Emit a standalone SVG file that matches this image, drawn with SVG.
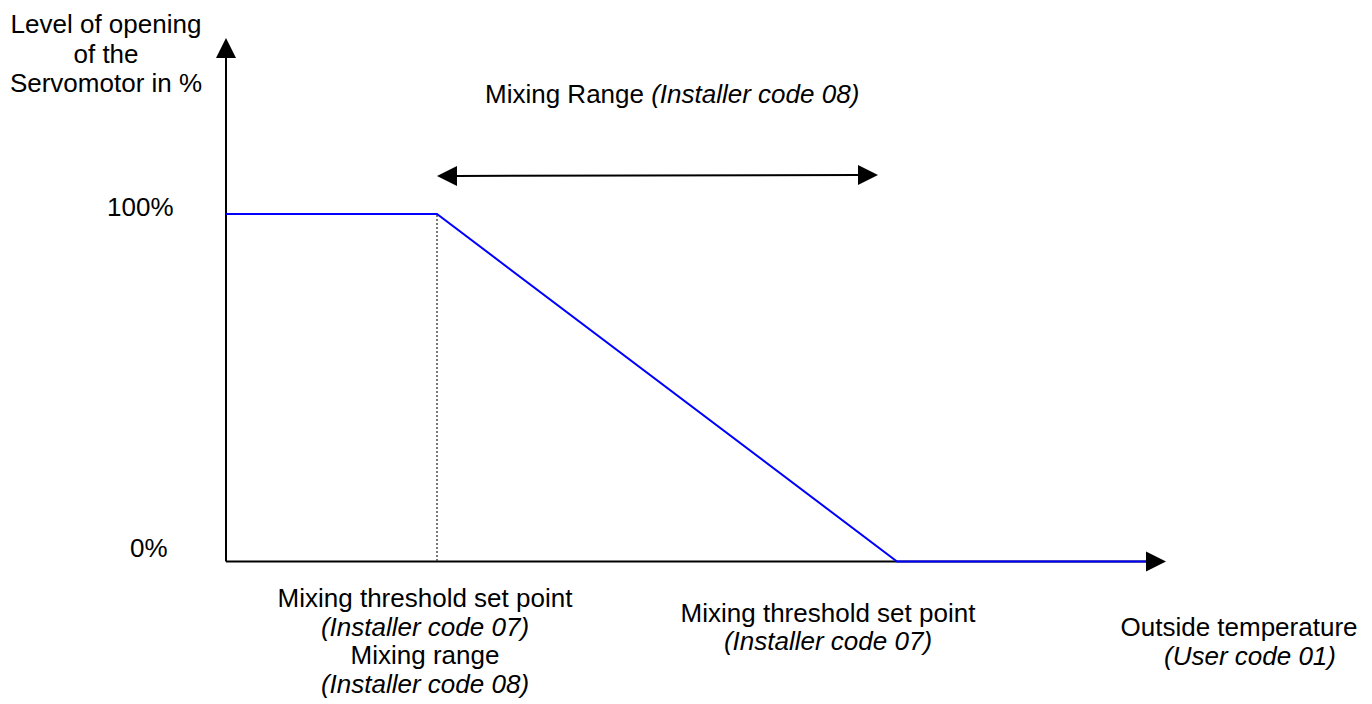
<svg xmlns="http://www.w3.org/2000/svg" width="1372" height="704" viewBox="0 0 1372 704">
<style>
text{font-family:"Liberation Sans",Arial,sans-serif;fill:#000;font-size:26px}
.it{font-style:italic}
.ax{stroke:#000;stroke-width:2;fill:none}
.curve{stroke:#0000ff;stroke-width:2;fill:none}
.dot{stroke:#333;stroke-width:1.3;stroke-dasharray:2,2;fill:none}
.head{fill:#000}
</style>
<g id="connectors">
<line class="ax" x1="226" y1="561.5" x2="226" y2="58"/>
<path class="head" d="M216,58 L226,38 L236,58 Z"/>
<line class="ax" x1="226" y1="561.5" x2="1146" y2="561.5"/>
<path class="head" d="M1146,551.5 L1166,561.5 L1146,571.5 Z"/>
<line class="dot" x1="437" y1="215" x2="437" y2="561"/>
<polyline class="curve" points="226,214 437,214 897,561.5 1146,561.5"/>
<line class="ax" x1="457" y1="176" x2="858" y2="175"/>
<path class="head" d="M457,166 L437,176 L457,186 Z"/>
<path class="head" d="M858,165 L878,175 L858,185 Z"/>
</g>
<g id="y-label">
<text x="106" y="33" text-anchor="middle">Level of opening</text>
<text x="106" y="62.5" text-anchor="middle">of the</text>
<text x="106" y="92" text-anchor="middle">Servomotor in %</text>
</g>
<g id="tick-100"><text x="107" y="216" font-size="25.5">100%</text></g>
<g id="tick-0"><text x="130" y="557" font-size="25.5">0%</text></g>
<g id="range-label"><text x="485" y="102.5" font-size="26.5">Mixing Range <tspan class="it">(Installer code 08)</tspan></text></g>
<g id="left-label">
<text x="425" y="607" text-anchor="middle">Mixing threshold set point</text>
<text x="425" y="636" text-anchor="middle" class="it">(Installer code 07)</text>
<text x="425" y="664" text-anchor="middle">Mixing range</text>
<text x="425" y="693" text-anchor="middle" class="it">(Installer code 08)</text>
</g>
<g id="mid-label">
<text x="828" y="622" text-anchor="middle" font-size="25.5">Mixing threshold set point</text>
<text x="828" y="650" text-anchor="middle" font-size="25.5" class="it">(Installer code 07)</text>
</g>
<g id="right-label">
<text x="1239" y="636" text-anchor="middle" font-size="24">Outside temperature</text>
<text x="1250" y="665" text-anchor="middle" font-size="23.5" class="it">(User code 01)</text>
</g>
</svg>
